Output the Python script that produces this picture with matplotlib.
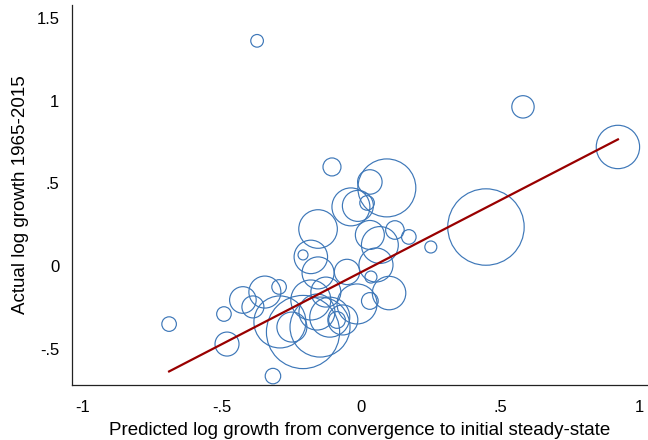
import matplotlib
matplotlib.use("Agg")
import matplotlib.pyplot as plt
import numpy as np

# Predicted log growth (x), actual log growth (y), population weight
predicted = [-0.373, 0.582, 0.923, 0.449, 0.251, 0.172, 0.122, 0.093, 0.032, 0.022,
             -0.036, -0.011, -0.104, -0.154, 0.032, 0.068, -0.180, -0.208, 0.054, -0.154,
             -0.050, 0.036, 0.101, -0.180, -0.126, -0.014, 0.032, -0.158, -0.086, -0.208,
             -0.291, -0.248, -0.345, -0.294, -0.424, -0.388, -0.492, -0.481, -0.689, -0.316,
             -0.147, -0.065, -0.112]
actual = [1.364, 0.964, 0.721, 0.236, 0.115, 0.176, 0.218, 0.473, 0.509, 0.382,
          0.358, 0.364, 0.600, 0.224, 0.188, 0.127, 0.055, 0.067, 0.006, -0.042,
          -0.036, -0.067, -0.164, -0.206, -0.158, -0.230, -0.212, -0.279, -0.327, -0.400,
          -0.339, -0.370, -0.158, -0.127, -0.206, -0.248, -0.291, -0.473, -0.352, -0.667,
          -0.370, -0.327, -0.310]
weight = [40, 125, 470, 1460, 36, 53, 86, 840, 150, 53,
          360, 240, 81, 372, 210, 340, 280, 25, 290, 256,
          160, 36, 280, 400, 225, 400, 70, 324, 70, 1340,
          676, 225, 256, 53, 177, 121, 53, 144, 53, 60,
          900, 225, 400]

fit_slope = 0.872
fit_intercept = -0.038

xticks = [-1, -0.5, 0, 0.5, 1]
xticklabels = ["-1", "-.5", "0", ".5", "1"]
yticks = [-0.5, 0, 0.5, 1, 1.5]
yticklabels = ["-.5", "0", ".5", "1", "1.5"]

plt.rcParams['font.family'] = ['Liberation Sans', 'DejaVu Sans']

fig = plt.figure(figsize=(6.48, 4.40), dpi=100)
ax = fig.add_axes([0.111, 0.125, 0.889, 0.864])

px_per_pt = 100 / 72.0
sizes = [(2 * np.sqrt(w) / px_per_pt) ** 2 for w in weight]
ax.scatter(predicted, actual, s=sizes, facecolors='none', edgecolors='#3d77b8',
           linewidths=0.85, zorder=2)

xs = np.array([min(predicted), max(predicted)])
ax.plot(xs, fit_intercept + fit_slope * xs, color='#990000', linewidth=1.6, zorder=3)

ax.set_xlim(-1.038, 1.031)
ax.set_ylim(-0.721, 1.582)
ax.set_xticks(xticks)
ax.set_xticklabels(xticklabels)
ax.set_yticks(yticks)
ax.set_yticklabels(yticklabels)
ax.tick_params(axis='x', length=0, labelsize=12, pad=11, colors='black')
ax.tick_params(axis='y', length=0, labelsize=12, pad=9, colors='black')
for side in ['top', 'right']:
    ax.spines[side].set_visible(False)
for side in ['left', 'bottom']:
    ax.spines[side].set_color('#222222')
    ax.spines[side].set_linewidth(0.9)

ax.set_xlabel("Predicted log growth from convergence to initial steady-state", fontsize=13.5, labelpad=5)
ax.set_ylabel("Actual log growth 1965-2015", fontsize=13.5, labelpad=5)

fig.savefig("out.png", dpi=100)
